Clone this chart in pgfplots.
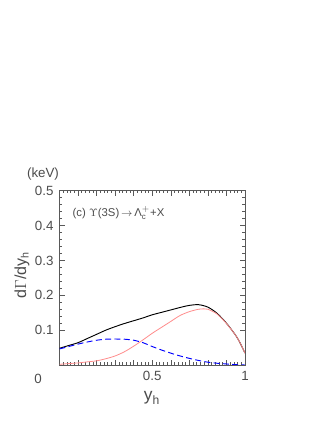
\documentclass[border=0pt]{standalone}
\usepackage{pgfplots}
\pgfplotsset{compat=1.18}
\usepackage{fontspec}
\setmainfont{Liberation Sans}
\begin{document}
\begin{tikzpicture}[x=0.75pt,y=0.75pt]
\path[use as bounding box] (0,0) rectangle (330,427);
\coordinate (A) at (59.5,62);
\begin{axis}[
    at={(A)}, anchor=south west,
    scale only axis,
    width=139.1pt, height=130.7pt,
    xmin=0, xmax=1, ymin=0, ymax=0.5,
    axis line style={gray!70!black, line width=0.6pt},
    tick style={gray!70!black, line width=0.4pt},
    xtick={0,0.1,...,1},
    xticklabels={,,,,,0.5,,,,,1},
    ytick={0.1,0.2,0.3,0.4,0.5},
    yticklabels={0.1,0.2,0.3,0.4,0.5},
    minor x tick num=4, minor y tick num=4,
    major tick length=4pt, minor tick length=2pt,
    tick align=inside,
    xtick pos=both, ytick pos=both,
    /pgf/number format/assume math mode=true,
    ticklabel style={font=\fontsize{10}{12}\selectfont, text=gray!60!black},
    xticklabel style={yshift=-1pt},
    yticklabel style={xshift=-1pt},
]
\addplot[black, line width=0.7pt, smooth] coordinates {
(0.00,0.048) (0.05,0.056) (0.10,0.064) (0.15,0.076) (0.20,0.088)
(0.25,0.100) (0.30,0.110) (0.35,0.119) (0.40,0.127) (0.45,0.135)
(0.50,0.144) (0.55,0.151) (0.60,0.158) (0.65,0.165) (0.70,0.171)
(0.75,0.173) (0.80,0.166) (0.85,0.148) (0.90,0.120) (0.95,0.085)
(0.975,0.062) (1.00,0.034)};
\addplot[red!45, line width=0.6pt, smooth] coordinates {
(0.00,0.002) (0.05,0.004) (0.10,0.006) (0.15,0.009) (0.20,0.012)
(0.25,0.018) (0.30,0.026) (0.35,0.038) (0.40,0.054) (0.45,0.072)
(0.50,0.091) (0.55,0.108) (0.60,0.125) (0.65,0.142) (0.70,0.153)
(0.75,0.160) (0.78,0.161) (0.80,0.160) (0.85,0.146) (0.90,0.119)
(0.95,0.085) (0.975,0.062) (1.00,0.034)};
\addplot[blue, line width=0.7pt, dash pattern=on 4.5pt off 2.5pt, smooth] coordinates {
(0.00,0.046) (0.05,0.053) (0.10,0.060) (0.15,0.066) (0.20,0.071)
(0.25,0.074) (0.30,0.0745) (0.35,0.074) (0.40,0.071) (0.45,0.064)
(0.50,0.053) (0.55,0.043) (0.60,0.034) (0.65,0.026) (0.70,0.019)
(0.75,0.013) (0.80,0.008) (0.85,0.005) (0.90,0.003) (0.95,0.001)
(1.00,0.000)};
\end{axis}
\node[text=gray!60!black, font=\fontsize{10}{12}\selectfont] at (38,48) {0};
\node[text=gray!60!black, font=\fontsize{10}{12}\selectfont] at (43,253) {(keV)};
\node[text=gray!60!black, font=\fontsize{12}{14}\selectfont, rotate=90] at (22,152) {d$\Gamma$/dy$_\mathrm{h}$};
\node[text=gray!60!black, font=\fontsize{13}{15}\selectfont] at (152,29) {y$_\mathrm{h}$};
\node[anchor=west, text=gray!60!black, font=\fontsize{8.5}{10}\selectfont] at (68,214) {(c) $\Upsilon$(3S)$\,\rightarrow\,$Λ$_\mathrm{c}^{+}$+X};
\end{tikzpicture}
\end{document}
